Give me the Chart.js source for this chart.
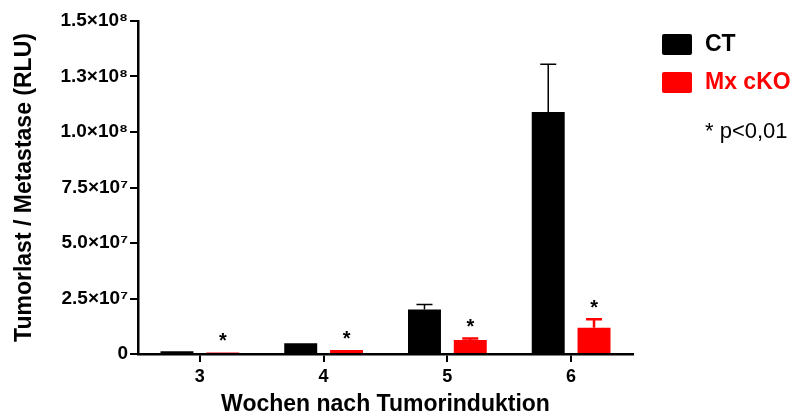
<!DOCTYPE html>
<html>
<head>
<meta charset="utf-8">
<script src="https://cdn.jsdelivr.net/npm/chart.js@4"></script>
<style>
  html, body { margin: 0; padding: 0; background: #fff; }
  #wrap { width: 795px; height: 416px; position: relative; }
</style>
</head>
<body>
<div id="wrap"><canvas id="chart"></canvas></div>
<script>
// Data
const weeks = ['3', '4', '5', '6'];
const ctValues = [1.2e6, 4.8e6, 2.0e7, 1.09e8];
const ctErrors = [0, 0, 2.3e6, 2.15e7];
const koValues = [0.7e6, 1.8e6, 6.3e6, 1.18e7];
const koErrors = [0, 0, 0.7e6, 3.8e6];
const koSignificant = [true, true, true, true];
const yTickValues = [0, 2.5e7, 5e7, 7.5e7, 1e8, 1.25e8, 1.5e8];
const yTickLabels = ['0', '2.5×10⁷', '5.0×10⁷', '7.5×10⁷', '1.0×10⁸', '1.3×10⁸', '1.5×10⁸'];

const FONT = '"Liberation Sans", Arial, sans-serif';

// Upper error bars with caps
const errorBars = {
    id: 'errorBars',
    afterDatasetsDraw(chart) {
        const ctx = chart.ctx;
        const y = chart.scales.y;
        chart.data.datasets.forEach((ds, i) => {
            const meta = chart.getDatasetMeta(i);
            ds.errors.forEach((err, j) => {
                if (!err) return;
                const bar = meta.data[j];
                const top = y.getPixelForValue(ds.data[j] + err);
                ctx.save();
                ctx.strokeStyle = ds.backgroundColor;
                ctx.lineWidth = ds.errorWidth;
                ctx.beginPath();
                ctx.moveTo(bar.x, bar.y);
                ctx.lineTo(bar.x, top);
                ctx.moveTo(bar.x - 8, top);
                ctx.lineTo(bar.x + 8, top);
                ctx.stroke();
                ctx.restore();
            });
        });
    }
};

// Significance stars above the cKO bars
const stars = {
    id: 'stars',
    afterDatasetsDraw(chart) {
        const ctx = chart.ctx;
        const y = chart.scales.y;
        const meta = chart.getDatasetMeta(1);
        ctx.save();
        ctx.fillStyle = '#000';
        ctx.font = 'bold 20px ' + FONT;
        ctx.textAlign = 'center';
        ctx.textBaseline = 'middle';
        koSignificant.forEach((sig, j) => {
            if (!sig) return;
            const top = y.getPixelForValue(koValues[j] + koErrors[j]);
            ctx.fillText('*', meta.data[j].x, top - 11);
        });
        ctx.restore();
    }
};

// Legend box on the right plus the p-value note
const sideLegend = {
    id: 'sideLegend',
    afterDraw(chart) {
        const ctx = chart.ctx;
        ctx.save();
        ctx.textBaseline = 'middle';
        chart.data.datasets.forEach((ds, i) => {
            const yy = 44 + i * 38;
            ctx.fillStyle = ds.backgroundColor;
            ctx.beginPath();
            ctx.roundRect(662, yy - 10, 30, 21, 2);
            ctx.fill();
            ctx.fillStyle = ds.labelColor;
            ctx.font = 'bold 23px ' + FONT;
            ctx.fillText(ds.label, 705, yy + 1);
        });
        ctx.fillStyle = '#000';
        ctx.font = '22px ' + FONT;
        ctx.fillText('* p<0,01', 705, 132);
        ctx.restore();
    }
};

new Chart(document.getElementById('chart'), {
    type: 'bar',
    data: {
        labels: weeks,
        datasets: [
            {
                label: 'CT',
                data: ctValues,
                errors: ctErrors,
                errorWidth: 1.5,
                backgroundColor: '#000000',
                labelColor: '#000000'
            },
            {
                label: 'Mx cKO',
                data: koValues,
                errors: koErrors,
                errorWidth: 2.5,
                backgroundColor: '#ff0000',
                labelColor: '#ff0000'
            }
        ]
    },
    options: {
        responsive: true,
        maintainAspectRatio: false,
        animation: false,
        categoryPercentage: 0.74,
        barPercentage: 0.72,
        layout: { padding: { top: 21, right: 162, left: 4, bottom: 0 } },
        plugins: {
            legend: { display: false },
            tooltip: { enabled: false }
        },
        scales: {
            x: {
                afterFit(scale) { scale.height = 62; },
                grid: { display: true, drawOnChartArea: false, offset: false, tickLength: 8, color: '#000', lineWidth: 2 },
                border: { display: true, color: '#000', width: 2.5 },
                ticks: { color: '#000', font: { family: FONT, size: 18, weight: 'bold' }, padding: 4 },
                title: {
                    display: true,
                    text: 'Wochen nach Tumorinduktion',
                    color: '#000',
                    font: { family: FONT, size: 23, weight: 'bold', lineHeight: 1 },
                    padding: { top: 6, bottom: 0 }
                }
            },
            y: {
                min: 0,
                max: 1.5e8,
                afterFit(scale) { scale.width = 134; },
                afterBuildTicks(scale) {
                    scale.ticks = yTickValues.map(v => ({ value: v }));
                },
                grid: { display: true, drawOnChartArea: false, tickLength: 8, color: '#000', lineWidth: 2 },
                border: { display: true, color: '#000', width: 2.5 },
                ticks: {
                    color: '#000',
                    font: { family: FONT, size: 19, weight: 'bold' },
                    padding: 2,
                    callback: (v) => yTickLabels[yTickValues.indexOf(v)]
                },
                title: {
                    display: true,
                    text: 'Tumorlast / Metastase (RLU)',
                    color: '#000',
                    font: { family: FONT, size: 23, weight: 'bold' },
                    padding: { top: 7, bottom: 0 }
                }
            }
        }
    },
    plugins: [errorBars, stars, sideLegend]
});
</script>
</body>
</html>
